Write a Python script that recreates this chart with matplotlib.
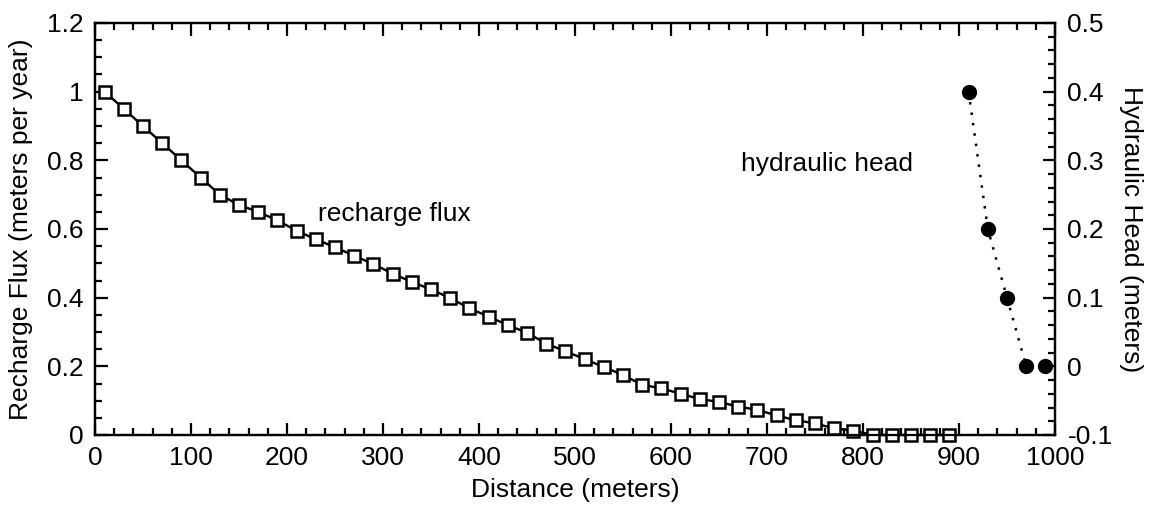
import matplotlib
matplotlib.use("Agg")
import matplotlib.pyplot as plt
from matplotlib.ticker import MultipleLocator

plt.rcParams['font.family'] = ['Liberation Sans', 'DejaVu Sans']

distance = [10, 30, 50, 70, 90, 110, 130, 150, 170, 190, 210, 230, 250, 270, 290,
            310, 330, 350, 370, 390, 410, 430, 450, 470, 490, 510, 530, 550, 570, 590,
            610, 630, 650, 670, 690, 710, 730, 750, 770, 790, 810, 830, 850, 870, 890]
recharge = [1.0, 0.95, 0.90, 0.85, 0.80, 0.75, 0.70, 0.67, 0.65, 0.625, 0.595, 0.57,
            0.547, 0.522, 0.498, 0.47, 0.446, 0.424, 0.399, 0.369, 0.345, 0.32, 0.298,
            0.266, 0.244, 0.221, 0.198, 0.175, 0.146, 0.136, 0.12, 0.105, 0.096, 0.083,
            0.073, 0.057, 0.043, 0.034, 0.019, 0.013, 0.0, 0.0, 0.0, 0.0, 0.0]
head_distance = [910, 930, 950, 970, 990]
head = [0.4, 0.2, 0.1, 0.0, 0.0]

FS = 19

fig = plt.figure(figsize=(11.51, 5.08), dpi=100)
ax = fig.add_axes([95/1151, 73/508, 960/1151, 412/508])
ax.plot(distance, recharge, color='black', lw=1.7, marker='s', ms=9,
        mfc='white', mec='black', mew=1.8, clip_on=False, zorder=3)
ax.set_xlim(0, 1000)
ax.set_ylim(0, 1.2)
ax.xaxis.set_major_locator(MultipleLocator(100))
ax.xaxis.set_minor_locator(MultipleLocator(20))
ax.yaxis.set_minor_locator(MultipleLocator(0.05))
ax.set_yticks([0, 0.2, 0.4, 0.6, 0.8, 1.0, 1.2])
ax.set_yticklabels(['0', '0.2', '0.4', '0.6', '0.8', '1', '1.2'])
ax.tick_params(which='both', direction='in', top=True, right=False, width=1.6,
               labelsize=FS)
ax.tick_params(axis='y', pad=8)
ax.tick_params(axis='x', pad=8)
ax.tick_params(which='major', length=9)
ax.tick_params(which='minor', length=5)
for s in ax.spines.values():
    s.set_linewidth(1.6)
ax.set_xlabel('Distance (meters)', fontsize=FS, labelpad=6)
ax.set_ylabel('Recharge Flux (meters per year)', fontsize=FS, labelpad=10)

ax2 = ax.twinx()
ax2.plot(head_distance, head, color='black', lw=1.8, ls=(0, (1, 3.2)), marker='o',
         ms=10, mfc='black', mec='black', zorder=3)
ax2.set_ylim(-0.1, 0.5)
ax2.yaxis.set_minor_locator(MultipleLocator(0.02))
ax2.set_yticks([-0.1, 0, 0.1, 0.2, 0.3, 0.4, 0.5])
ax2.set_yticklabels(['-0.1', '0', '0.1', '0.2', '0.3', '0.4', '0.5'])
ax2.tick_params(which='both', direction='in', width=1.6, labelsize=FS, pad=9)
ax2.tick_params(which='major', length=9)
ax2.tick_params(which='minor', length=5)
for s in ax2.spines.values():
    s.set_linewidth(1.6)
ax2.set_ylabel('Hydraulic Head (meters)', fontsize=FS, rotation=270, labelpad=22)

ax.text(232, 0.645, 'recharge flux', fontsize=FS, ha='left', va='center')
ax.text(673, 0.79, 'hydraulic head', fontsize=FS, ha='left', va='center')

fig.savefig('out.png', dpi=100)
